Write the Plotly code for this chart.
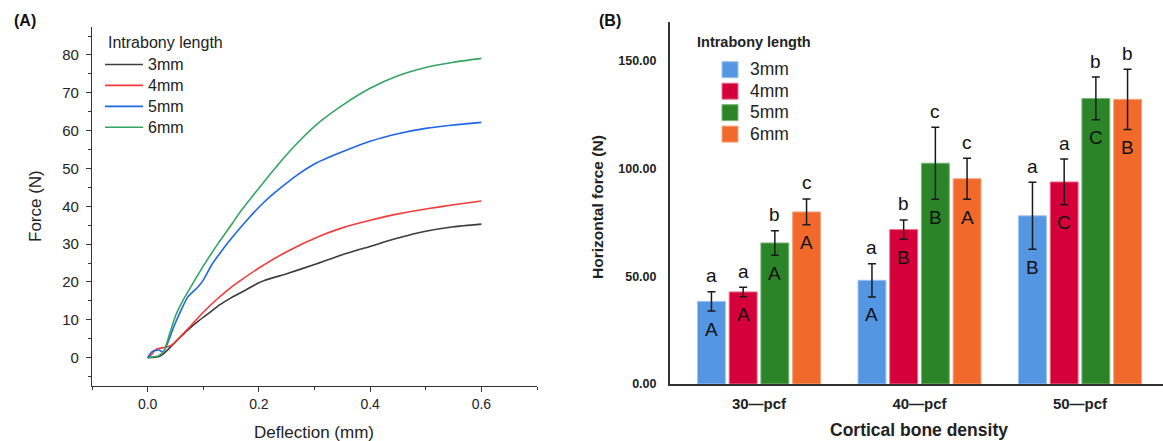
import plotly.graph_objects as go

# ---------------- Panel A data (force-deflection curves) ----------------
x_3mm = [0, 0.021, 0.03, 0.048, 0.07, 0.09, 0.108, 0.13, 0.15, 0.168, 0.2, 0.21, 0.25, 0.3, 0.35, 0.4, 0.45, 0.5, 0.55, 0.6]
y_3mm = [0, 0.3, 1.2, 3.8, 7.0, 9.5, 11.5, 14.0, 15.8, 17.2, 19.8, 20.4, 22.2, 24.6, 27.2, 29.4, 31.6, 33.4, 34.6, 35.3]

x_4mm = [0, 0.008, 0.015, 0.03, 0.042, 0.055, 0.078, 0.1, 0.125, 0.15, 0.168, 0.198, 0.25, 0.311, 0.35, 0.4, 0.45, 0.5, 0.55, 0.6]
y_4mm = [0, 1.0, 2.2, 2.7, 3.2, 5.0, 8.5, 12.0, 15.5, 18.6, 20.5, 23.5, 28.0, 32.2, 34.3, 36.3, 38.0, 39.3, 40.4, 41.4]

x_5mm = [0, 0.008, 0.02, 0.028, 0.035, 0.048, 0.06, 0.072, 0.09, 0.1, 0.115, 0.13, 0.15, 0.18, 0.21, 0.24, 0.27, 0.3, 0.35, 0.4, 0.45, 0.5, 0.55, 0.6]
y_5mm = [0, 1.6, 2.0, 1.5, 3.5, 8.5, 12.5, 16.0, 18.6, 20.5, 24.5, 27.6, 31.4, 36.6, 41.2, 45.0, 48.4, 51.2, 54.4, 57.2, 59.2, 60.6, 61.5, 62.2]

x_6mm = [0, 0.01, 0.02, 0.03, 0.04, 0.05, 0.065, 0.08, 0.1, 0.125, 0.15, 0.168, 0.2, 0.24, 0.275, 0.311, 0.35, 0.4, 0.45, 0.5, 0.55, 0.6]
y_6mm = [0, 0.2, 0.5, 2.0, 6.5, 11.0, 15.5, 19.3, 24.2, 29.8, 35.0, 38.8, 44.8, 52.0, 57.6, 62.5, 66.7, 71.2, 74.5, 76.7, 78.1, 79.1]

line_names = ["3mm", "4mm", "5mm", "6mm"]
line_colors = ["#3c3c3c", "#f23b3b", "#1f66e5", "#35a462"]

# ---------------- Panel B data (bar chart) ----------------
densities = ["30\u2014pcf", "40\u2014pcf", "50\u2014pcf"]
bar_names = ["3mm", "4mm", "5mm", "6mm"]
mean_3mm = [38.3, 48.1, 78.0]
mean_4mm = [42.7, 71.6, 93.7]
mean_5mm = [65.4, 102.4, 132.4]
mean_6mm = [79.8, 95.2, 132.0]
err_3mm = [4.5, 7.7, 15.5]
err_4mm = [2.2, 4.5, 10.6]
err_5mm = [5.7, 16.7, 9.9]
err_6mm = [6.0, 9.5, 14.0]
lower_3mm = ["a", "a", "a"]
lower_4mm = ["a", "b", "a"]
lower_5mm = ["b", "c", "b"]
lower_6mm = ["c", "c", "b"]
upper_3mm = ["A", "A", "B"]
upper_4mm = ["A", "B", "C"]
upper_5mm = ["A", "B", "C"]
upper_6mm = ["A", "A", "B"]
bar_colors = ["#5596e3", "#d5003a", "#2b8528", "#f26a2b"]
bar_edges = ["#9cc2ef", "#e8708e", "#7cb57a", "#f7a57f"]

FONT = "Liberation Sans, Arial, sans-serif"
W, H = 1163, 441

fig = go.Figure()

# ---- Panel A traces
for xs, ys, nm, col in zip([x_3mm, x_4mm, x_5mm, x_6mm], [y_3mm, y_4mm, y_5mm, y_6mm], line_names, line_colors):
    fig.add_trace(go.Scatter(x=xs, y=ys, mode="lines", name='<span style="font-size:16px">%s</span>' % nm,
                             line=dict(color=col, width=1.6, shape="spline", smoothing=0.6),
                             xaxis="x", yaxis="y", legend="legend"))

# ---- Panel B traces
means = [mean_3mm, mean_4mm, mean_5mm, mean_6mm]
errs = [err_3mm, err_4mm, err_5mm, err_6mm]
lowers = [lower_3mm, lower_4mm, lower_5mm, lower_6mm]
uppers = [upper_3mm, upper_4mm, upper_5mm, upper_6mm]
xpos = list(range(len(densities)))
BARGAP = 0.21
slot = (1 - BARGAP) / len(bar_names)

for i, (nm, m, e, c, ec) in enumerate(zip(bar_names, means, errs, bar_colors, bar_edges)):
    fig.add_trace(go.Bar(x=xpos, y=m, name=nm, marker=dict(color=c, line=dict(color=ec, width=1)),
                         error_y=dict(type="data", array=e, visible=True, color="#1a1a1a", thickness=1.5, width=4),
                         xaxis="x2", yaxis="y2", showlegend=False))
    # legend entries (square swatches)
    fig.add_trace(go.Scatter(x=[None], y=[None], mode="markers",
                             name='<span style="font-size:17.5px">%s</span>' % nm,
                             marker=dict(symbol="square", size=16, color=c, line=dict(color=ec, width=1)),
                             xaxis="x2", yaxis="y2", legend="legend2"))

# letters
annotations = []
for i in range(len(bar_names)):
    off = (i - (len(bar_names) - 1) / 2) * slot
    for j, xg in enumerate(xpos):
        xa = xg + off
        annotations.append(dict(x=xa, y=means[i][j] + errs[i][j], xref="x2", yref="y2", text=lowers[i][j],
                                showarrow=False, yanchor="middle", yshift=16,
                                font=dict(family=FONT, size=19, color="#111")))
        annotations.append(dict(x=xa, y=means[i][j] - errs[i][j], xref="x2", yref="y2", text=uppers[i][j],
                                showarrow=False, yanchor="middle", yshift=-18,
                                font=dict(family=FONT, size=19, color="#111")))

def px(xp):
    return xp / W

def py(yp):
    return 1 - yp / H

# panel labels and titles
annotations += [
    dict(x=px(12), y=py(20), xref="paper", yref="paper", text="<b>(A)</b>", showarrow=False,
         xanchor="left", yanchor="middle", font=dict(family=FONT, size=16, color="#111")),
    dict(x=px(597), y=py(20), xref="paper", yref="paper", text="<b>(B)</b>", showarrow=False,
         xanchor="left", yanchor="middle", font=dict(family=FONT, size=16, color="#111")),
    dict(x=px(314), y=py(432), xref="paper", yref="paper", text="Deflection (mm)", showarrow=False,
         xanchor="center", yanchor="middle", font=dict(family=FONT, size=17, color="#222")),
    dict(x=px(36), y=py(206), xref="paper", yref="paper", text="Force (N)", showarrow=False, textangle=-90,
         xanchor="center", yanchor="middle", font=dict(family=FONT, size=17, color="#222")),
    dict(x=px(106), y=py(42), xref="paper", yref="paper", text="Intrabony length", showarrow=False,
         xanchor="left", yanchor="middle", font=dict(family=FONT, size=16, color="#222")),
    dict(x=px(597), y=py(207), xref="paper", yref="paper", text="<b>Horizontal force (N)</b>", showarrow=False,
         textangle=-90, xanchor="center", yanchor="middle", font=dict(family=FONT, size=15.5, color="#222")),
    dict(x=px(919), y=py(430), xref="paper", yref="paper", text="<b>Cortical bone density</b>", showarrow=False,
         xanchor="center", yanchor="middle", font=dict(family=FONT, size=17.5, color="#222")),
    dict(x=px(695), y=py(42), xref="paper", yref="paper", text="<b>Intrabony length</b>", showarrow=False,
         xanchor="left", yanchor="middle", font=dict(family=FONT, size=14.5, color="#222")),
]

axis_col = "#333333"
fig.update_layout(
    width=W, height=H,
    margin=dict(l=0, r=0, t=0, b=0, pad=0, autoexpand=False),
    paper_bgcolor="white", plot_bgcolor="white",
    barmode="group", bargap=BARGAP, bargroupgap=0.12,
    font=dict(family=FONT, color="#222"),
    xaxis=dict(domain=[px(92), px(537)], range=[-0.1, 0.7], dtick=0.2, tick0=0, tickformat=".1f",
               showline=True, linecolor=axis_col, linewidth=1.2, ticks="outside", ticklen=5, tickwidth=1.2,
               tickcolor=axis_col, showgrid=False, zeroline=False, ticklabelstandoff=0, automargin=False,
               minor=dict(dtick=0.1, tick0=0.1, ticks="outside", ticklen=3, tickcolor=axis_col, tickwidth=1.2, showgrid=False),
               tickfont=dict(family=FONT, size=14, color="#222"), anchor="y"),
    yaxis=dict(domain=[py(386), py(27)], range=[-7.5, 87.4], dtick=10, tick0=0,
               showline=True, linecolor=axis_col, linewidth=1.2, ticks="outside", ticklen=5, tickwidth=1.2,
               tickcolor=axis_col, showgrid=False, zeroline=False, ticklabelstandoff=4, automargin=False,
               minor=dict(dtick=5, tick0=5, ticks="outside", ticklen=3, tickcolor=axis_col, tickwidth=1.2, showgrid=False),
               tickfont=dict(family=FONT, size=15, color="#222"), anchor="x"),
    xaxis2=dict(domain=[px(670), 1.0], range=[-0.5545, 2.517], tickvals=xpos, ticktext=densities,
                showline=True, linecolor=axis_col, linewidth=2, ticks="", showgrid=False, zeroline=False,
                ticklabelstandoff=5, automargin=False,
                tickfont=dict(family=FONT, size=15, color="#222", weight="bold"), anchor="y2"),
    yaxis2=dict(domain=[py(384), py(21.7)], range=[0, 168], tickvals=[0, 50, 100, 150], tickformat=".2f",
                showline=True, linecolor=axis_col, linewidth=2, ticks="", showgrid=False, zeroline=False,
                ticklabelstandoff=9, automargin=False,
                tickfont=dict(family=FONT, size=12.5, color="#222", weight="bold"), anchor="x2"),
    legend=dict(x=px(100), y=py(49), xanchor="left", yanchor="top", bgcolor="rgba(0,0,0,0)",
                font=dict(family=FONT, size=13.8, color="#222"), itemwidth=38, tracegroupgap=0),
    legend2=dict(x=px(710), y=py(54), xanchor="left", yanchor="top", bgcolor="rgba(0,0,0,0)",
                 font=dict(family=FONT, size=14.2, color="#222"), tracegroupgap=0),
    annotations=annotations,
)

post = (
    "document.documentElement.style.margin='0';document.documentElement.style.padding='0';"
    "document.body.style.margin='0';document.body.style.padding='0';"
    "document.documentElement.style.overflow='hidden';document.body.style.overflow='hidden';"
)

fig.write_html("out.html", config={"displayModeBar": False}, post_script=post)
